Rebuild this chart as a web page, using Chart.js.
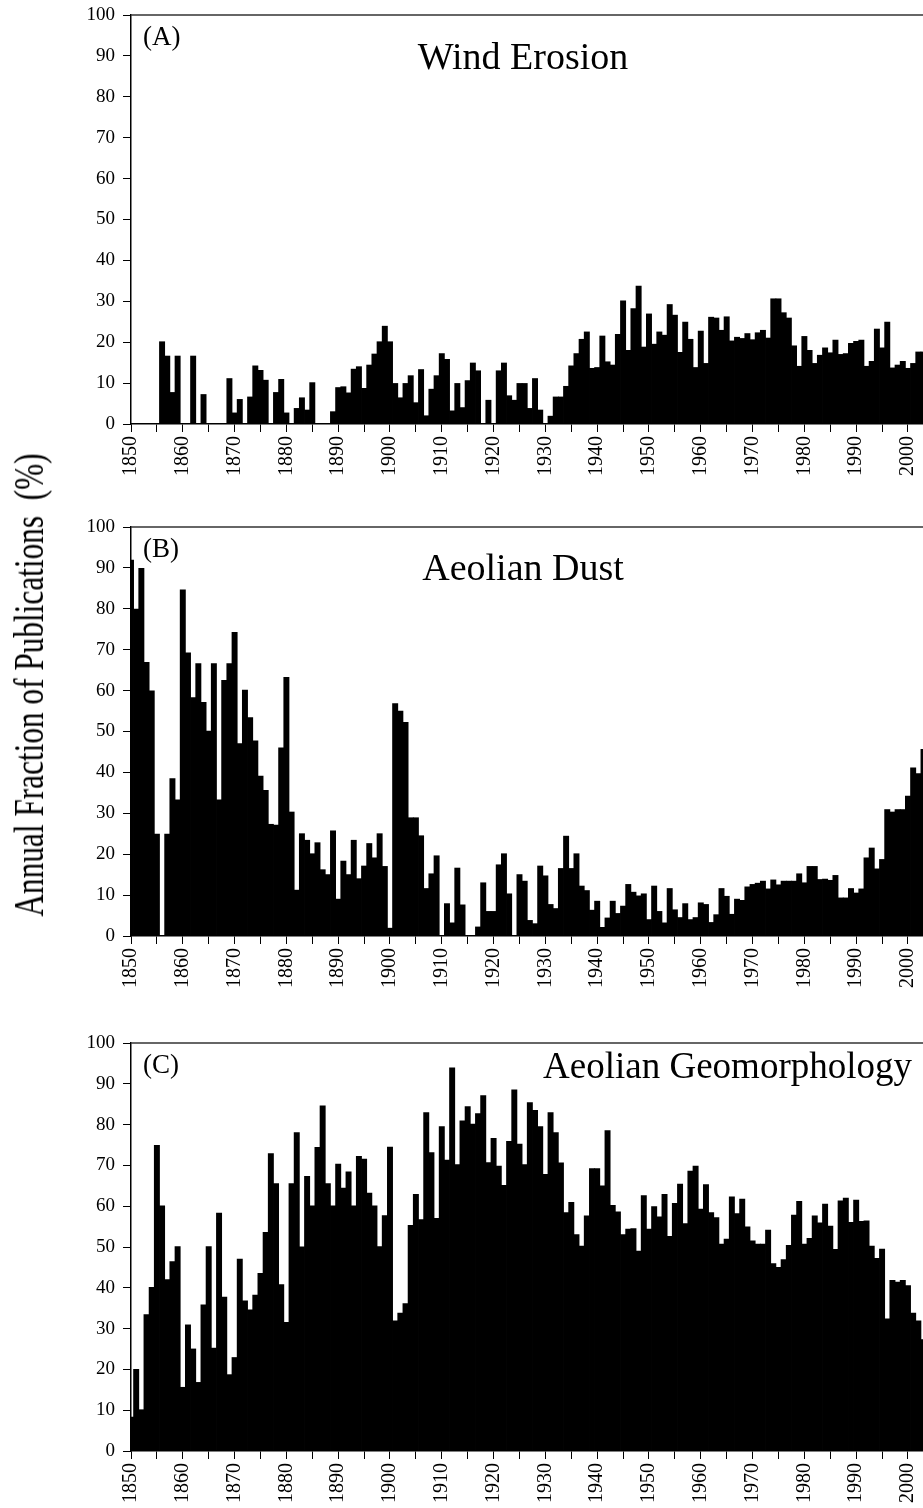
<!DOCTYPE html>
<html>
<head>
<meta charset="utf-8">
<script src="https://cdn.jsdelivr.net/npm/chart.js@4.4.1/dist/chart.umd.min.js"></script>
<style>
  html, body { margin: 0; padding: 0; background: #fff; }
  body { width: 923px; height: 1508px; position: relative; overflow: hidden; }
  canvas { position: absolute; left: 0; }
  #yTitle {
    position: absolute; left: 29px; top: 685px;
    font-family: "Liberation Serif"; font-size: 42px; line-height: 1;
    white-space: pre; color: #000;
    transform: translate(-50%, -50%) rotate(-90deg) scaleX(0.745);
  }
</style>
</head>
<body>

<canvas id="panelA" width="923" height="479" style="top:0px"></canvas>
<canvas id="panelB" width="923" height="479" style="top:512px"></canvas>
<canvas id="panelC" width="923" height="478" style="top:1028px"></canvas>
<div id="yTitle">Annual Fraction of Publications  (%)</div>

<script>
// years on the x axis, one bar each
const years = [
  1850,1851,1852,1853,1854,1855,1856,1857,1858,1859,
  1860,1861,1862,1863,1864,1865,1866,1867,1868,1869,
  1870,1871,1872,1873,1874,1875,1876,1877,1878,1879,
  1880,1881,1882,1883,1884,1885,1886,1887,1888,1889,
  1890,1891,1892,1893,1894,1895,1896,1897,1898,1899,
  1900,1901,1902,1903,1904,1905,1906,1907,1908,1909,
  1910,1911,1912,1913,1914,1915,1916,1917,1918,1919,
  1920,1921,1922,1923,1924,1925,1926,1927,1928,1929,
  1930,1931,1932,1933,1934,1935,1936,1937,1938,1939,
  1940,1941,1942,1943,1944,1945,1946,1947,1948,1949,
  1950,1951,1952,1953,1954,1955,1956,1957,1958,1959,
  1960,1961,1962,1963,1964,1965,1966,1967,1968,1969,
  1970,1971,1972,1973,1974,1975,1976,1977,1978,1979,
  1980,1981,1982,1983,1984,1985,1986,1987,1988,1989,
  1990,1991,1992,1993,1994,1995,1996,1997,1998,1999,
  2000,2001,2002,2003
];

// (A) Wind Erosion, % of publications per year
const windErosion = [
  0,0,0,0,0,0,20.2,16.7,7.8,16.7,
  0,0,16.7,0,7.3,0,0,0,0,11.2,
  2.8,6.1,0,6.7,14.3,13.2,10.8,0,7.8,11,
  2.8,0,3.9,6.5,3.5,10.2,0,0,0,3.1,
  9,9.2,7.7,13.5,14.1,8.8,14.5,17.2,20.2,24,
  20.2,10,6.5,10,11.9,5.3,13.4,2.1,8.6,11.9,
  17.3,15.9,3.3,10,4.1,10.7,15,13.1,0,5.9,
  0,13.1,15,7,5.9,10,10,3.9,11.2,3.5,
  0,2,6.7,6.7,9.3,14.3,17.3,20.8,22.6,13.7,
  13.9,21.6,15.3,14.5,22,30.2,18.1,28.3,33.8,18.9,
  27,19.6,22.6,21.8,29.3,26.7,17.6,25,20.8,13.9,
  22.8,14.9,26.2,26,23,26.3,20.4,21.3,21,22.2,
  20.7,22.4,23,21.1,30.7,30.7,27.3,26,19.2,14.2,
  21.5,18.1,14.9,16.9,18.7,17.5,20.6,17.1,17.3,19.8,
  20.3,20.6,14.2,15.4,23.3,18.7,25,13.8,14.5,15.4,
  13.7,14.9,17.7,17.7
];

// (B) Aeolian Dust
const aeolianDust = [
  92,80,90,67,60,25,0,25,38.6,33.4,
  84.7,69.3,58.4,66.7,57.2,50.2,66.7,33.4,62.6,66.7,
  74.3,47.1,60.2,53.5,47.8,39.2,35.7,27.4,27.2,46.1,
  63.3,30.4,11.3,25.1,23.5,20.2,22.9,16.3,15.1,25.8,
  9.1,18.4,15.1,23.5,14.1,17.2,22.7,19.2,25.1,17.1,
  2,56.9,55.1,52.3,29,29,24.6,11.7,15.3,19.7,
  0,8,3.3,16.7,7.7,0,0,2.3,13.1,6.1,
  6.1,17.5,20.2,10.4,0,15.1,13.5,3.9,3.1,17.2,
  14.8,7.8,6.8,16.6,24.5,16.6,20.2,12.3,11.2,6.4,
  8.6,2.2,4.5,8.6,5.6,7.4,12.7,10.8,9.9,10.4,
  4.1,12.3,6.1,3.3,11.7,6.5,4.6,8,4.1,4.6,
  8.2,7.8,3.4,5.3,11.7,9.8,5.4,9.1,8.8,12.1,
  12.7,13,13.5,11.6,13.8,12.6,13.5,13.5,13.5,15.3,
  13.1,17.1,17.1,13.9,14,13.7,14.9,9.4,9.4,11.7,
  10.6,11.6,19.2,21.6,16.5,18.8,31,30.4,31,31,
  34.3,41.2,39.8,45.7
];

// (C) Aeolian Geomorphology
const aeolianGeomorphology = [
  8.4,20.1,10.2,33.5,40.2,75,60.2,42.1,46.5,50.2,
  15.7,31,25.1,16.9,35.9,50.2,25.3,58.4,37.8,18.8,
  23,47.1,36.9,34.7,38.3,43.6,53.7,73,65.6,40.9,
  31.6,65.6,78.1,50.1,67.4,60.2,74.5,84.7,65.6,60.2,
  70.4,64.5,68.5,60.2,72.3,71.6,63.3,60.2,50.2,57.8,
  74.6,32,33.9,36.2,55.4,63,56.8,83,73.2,57.1,
  79.6,71.4,94,70.3,81,84.5,80.2,82.8,87.2,70.8,
  76.7,69.9,65.2,76,88.6,75.3,70.3,85.5,83.6,79.6,
  67.9,83,78.1,70.7,58.5,61,53.1,50.3,57.7,69.3,
  69.3,65.1,78.6,60.3,58.7,53.1,54.5,54.6,49.1,62.7,
  54.5,60,57.5,63,52.7,60.8,65.5,55.8,68.7,69.9,
  59.4,65.4,58.5,57.3,50.8,52,62.4,58.3,61.8,55,
  51.6,50.8,50.8,54.2,46,45.1,47,50.5,57.9,61.3,
  50.8,52.2,57.7,56,60.6,55.2,49.5,61.4,62.1,56.1,
  61.6,56.4,56.5,50.3,47.3,49.6,32.5,41.9,41.5,41.9,
  40.6,33.9,32,27.4
];

// axis ticks
const xTicks = [1850,1855,1860,1865,1870,1875,1880,1885,1890,1895,
                1900,1905,1910,1915,1920,1925,1930,1935,1940,1945,
                1950,1955,1960,1965,1970,1975,1980,1985,1990,1995,2000];
const xLabels = ["1850","","1860","","1870","","1880","","1890","",
                 "1900","","1910","","1920","","1930","","1940","",
                 "1950","","1960","","1970","","1980","","1990","","2000"];
const yTicks = [0,10,20,30,40,50,60,70,80,90,100];

const serif = "Liberation Serif";

// frame line on top + panel letter + panel title
const panelText = {
    id: "panelText",
    afterDraw(chart, args, opts) {
        const ctx = chart.ctx;
        const area = chart.chartArea;
        ctx.save();
        ctx.strokeStyle = "#333";
        ctx.lineWidth = 1.5;
        ctx.beginPath();
        ctx.moveTo(area.left, area.top);
        ctx.lineTo(area.right, area.top);
        ctx.stroke();

        ctx.fillStyle = "#000";
        ctx.textBaseline = "alphabetic";
        ctx.font = "27px '" + serif + "'";
        ctx.textAlign = "left";
        ctx.fillText(opts.tag, area.left + 12, area.top + 30);

        ctx.font = opts.size + "px '" + serif + "'";
        ctx.textAlign = opts.align;
        ctx.fillText(opts.title, opts.x, area.top + opts.dy);
        ctx.restore();
    }
};

function buatPanel(id, values, text) {

    const points = years.map((yr, i) => ({ x: yr, y: values[i] }));

    new Chart(document.getElementById(id), {
        type: "bar",
        data: {
            datasets: [{
                data: points,
                backgroundColor: "#000",
                borderWidth: 0,
                categoryPercentage: 1,
                barPercentage: 1.15,
                clip: 0
            }]
        },
        options: {
            responsive: false,
            animation: false,
            layout: { padding: { top: 15, left: 0, right: 0, bottom: 0 } },
            plugins: {
                legend: { display: false },
                tooltip: { enabled: false },
                panelText: text
            },
            scales: {
                x: {
                    type: "linear",
                    min: 1850,
                    max: 2002.9,
                    offset: false,
                    afterBuildTicks: s => { s.ticks = xTicks.map(v => ({ value: v })); },
                    afterFit: s => { s.height = 55; s.paddingLeft = 0; s.paddingRight = 0; },
                    grid: {
                        display: true, drawOnChartArea: false, drawTicks: true,
                        tickLength: 8, color: "#000", lineWidth: 1, offset: false
                    },
                    border: { display: true, color: "#000", width: 1.5 },
                    ticks: {
                        autoSkip: false, minRotation: 90, maxRotation: 90,
                        padding: 4, color: "#000",
                        font: { family: serif, size: 20 },
                        callback: (v, i) => xLabels[i]
                    }
                },
                y: {
                    min: 0,
                    max: 100,
                    afterBuildTicks: s => { s.ticks = yTicks.map(v => ({ value: v })); },
                    afterFit: s => { s.width = 131; s.paddingTop = 0; s.paddingBottom = 0; },
                    grid: {
                        display: true, drawOnChartArea: false, drawTicks: true,
                        tickLength: 8, color: "#000", lineWidth: 1
                    },
                    border: { display: true, color: "#000", width: 1.5 },
                    ticks: {
                        padding: 8, color: "#000",
                        font: { family: serif, size: 19 }
                    }
                }
            }
        },
        plugins: [panelText]
    });
}

buatPanel("panelA", windErosion,
    { tag: "(A)", title: "Wind Erosion", align: "center", x: 523, dy: 54, size: 38 });

buatPanel("panelB", aeolianDust,
    { tag: "(B)", title: "Aeolian Dust", align: "center", x: 523, dy: 53, size: 38 });

buatPanel("panelC", aeolianGeomorphology,
    { tag: "(C)", title: "Aeolian Geomorphology", align: "right", x: 912, dy: 35, size: 37 });
</script>
</body>
</html>
